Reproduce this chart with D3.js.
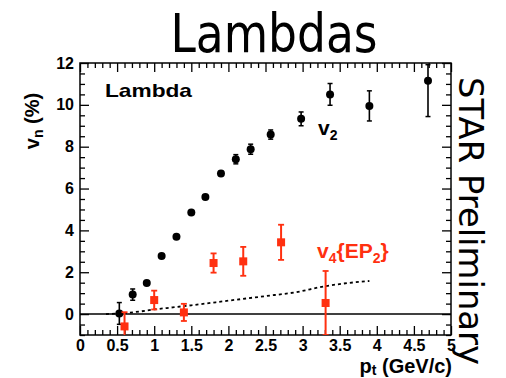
<!DOCTYPE html>
<html>

<head>
    <meta charset="utf-8">
    <style>
        body {
            margin: 0;
            background: white;
        }

        svg {
            overflow: visible;
        }

        .axis .domain {
            display: none;
        }

        .axis .tick line {
            stroke: #000;
            stroke-width: 1.3px;
        }

        .axis .tick text {
            font-family: 'Liberation Sans', Arial, sans-serif;
            font-weight: bold;
            font-size: 16px;
            fill: #000;
        }
    </style>
</head>

<body>
    <svg width="506" height="378"></svg>
</body>

<script src="https://cdnjs.cloudflare.com/ajax/libs/d3/7.8.5/d3.min.js"></script>

<script>
    // v2 of Lambda (black circles)
    const v2Pt = [0.53, 0.71, 0.90, 1.10, 1.30, 1.50, 1.69, 1.90, 2.10, 2.30, 2.57, 2.98, 3.37, 3.90, 4.69]
    const v2Val = [0.03, 0.93, 1.48, 2.78, 3.70, 4.86, 5.60, 6.72, 7.40, 7.88, 8.58, 9.33, 10.50, 9.95, 11.15]
    const v2ErrLo = [0.52, 0.27, 0.10, 0.08, 0.08, 0.08, 0.08, 0.10, 0.22, 0.24, 0.22, 0.33, 0.52, 0.72, 1.71]
    const v2ErrHi = [0.52, 0.27, 0.10, 0.08, 0.08, 0.08, 0.08, 0.10, 0.22, 0.24, 0.22, 0.33, 0.52, 0.72, 0.77]

    // v4{EP2} (red squares)
    const v4Pt = [0.60, 1.00, 1.40, 1.80, 2.20, 2.71, 3.31]
    const v4Val = [-0.59, 0.67, 0.08, 2.44, 2.52, 3.43, 0.53]
    const v4Err = [0.68, 0.45, 0.41, 0.46, 0.69, 0.84, 1.53]

    // dashed curve
    const curvePt = [0.35, 0.6, 0.8, 1.0, 1.25, 1.5, 2.0, 2.5, 2.9, 3.3, 3.6, 3.9]
    const curveVal = [0.0, 0.05, 0.12, 0.22, 0.32, 0.42, 0.64, 0.86, 1.04, 1.33, 1.48, 1.58]

    // ticks
    const xMajor = [0, 0.5, 1, 1.5, 2, 2.5, 3, 3.5, 4, 4.5, 5]
    const xLabels = ["0", "0.5", "1", "1.5", "2", "2.5", "3", "3.5", "4", "4.5", "5"]
    const yMajor = [0, 2, 4, 6, 8, 10, 12]
    const yLabels = ["0", "2", "4", "6", "8", "10", "12"]

    let red = "#ff3010"
    let mLeft = 80, mRight = 451, mTop = 63, mBottom = 335

    let svg = d3.select("svg")

    let x = d3.scaleLinear()
        .domain([0, 5])
        .range([mLeft, mRight])

    let y = d3.scaleLinear()
        .domain([-1, 12])
        .range([mBottom, mTop])

    let xMinor = d3.range(0, 5.001, 0.1).map(d => +d.toFixed(1)).filter(d => !xMajor.includes(d))
    let yMinor = d3.range(-1, 12.001, 0.5).filter(d => !yMajor.includes(d))

    // axes, ticks pointing inward on all four sides
    svg.append("g")
        .attr("class", "axis")
        .attr("transform", `translate(0,${mBottom})`)
        .call(d3.axisBottom(x).tickValues(xMajor).tickSize(-9)
            .tickFormat((d, i) => xLabels[i]))
        .call(g => g.selectAll("text").attr("y", 16).attr("dy", 0))
    svg.append("g")
        .attr("class", "axis")
        .attr("transform", `translate(0,${mBottom})`)
        .call(d3.axisBottom(x).tickValues(xMinor).tickSize(-5).tickFormat(""))

    svg.append("g")
        .attr("class", "axis")
        .attr("transform", `translate(0,${mTop})`)
        .call(d3.axisTop(x).tickValues(xMajor).tickSize(-9).tickFormat(""))
    svg.append("g")
        .attr("class", "axis")
        .attr("transform", `translate(0,${mTop})`)
        .call(d3.axisTop(x).tickValues(xMinor).tickSize(-5).tickFormat(""))

    svg.append("g")
        .attr("class", "axis")
        .attr("transform", `translate(${mLeft},0)`)
        .call(d3.axisLeft(y).tickValues(yMajor).tickSize(-9).tickPadding(6)
            .tickFormat((d, i) => yLabels[i]))
    svg.append("g")
        .attr("class", "axis")
        .attr("transform", `translate(${mLeft},0)`)
        .call(d3.axisLeft(y).tickValues(yMinor).tickSize(-5).tickFormat(""))

    svg.append("g")
        .attr("class", "axis")
        .attr("transform", `translate(${mRight},0)`)
        .call(d3.axisRight(y).tickValues(yMajor).tickSize(-9).tickFormat(""))
    svg.append("g")
        .attr("class", "axis")
        .attr("transform", `translate(${mRight},0)`)
        .call(d3.axisRight(y).tickValues(yMinor).tickSize(-5).tickFormat(""))

    // frame
    svg.append("rect")
        .attr("x", mLeft)
        .attr("y", mTop)
        .attr("width", mRight - mLeft)
        .attr("height", mBottom - mTop)
        .attr("fill", "none")
        .attr("stroke", "#000")
        .attr("stroke-width", 1.5)

    svg.append("clipPath")
        .attr("id", "plot")
        .append("rect")
        .attr("x", mLeft)
        .attr("y", mTop)
        .attr("width", mRight - mLeft)
        .attr("height", mBottom - mTop)

    let plot = svg.append("g").attr("clip-path", "url(#plot)")

    // zero line
    plot.append("line")
        .attr("x1", mLeft)
        .attr("x2", mRight)
        .attr("y1", y(0))
        .attr("y2", y(0))
        .attr("stroke", "#000")
        .attr("stroke-width", 1.5)

    // dashed curve
    let line = d3.line()
        .x((d, i) => x(curvePt[i]))
        .y(d => y(d))
        .curve(d3.curveMonotoneX)

    plot.append("path")
        .datum(curveVal)
        .attr("d", line)
        .attr("fill", "none")
        .attr("stroke", "#000")
        .attr("stroke-width", 1.8)
        .attr("stroke-dasharray", "3,3")

    // v2 error bars + circles
    let v2 = plot.append("g")
    v2.selectAll(".bar")
        .data(v2Val)
        .join("line")
        .attr("x1", (d, i) => x(v2Pt[i]))
        .attr("x2", (d, i) => x(v2Pt[i]))
        .attr("y1", (d, i) => y(d - v2ErrLo[i]))
        .attr("y2", (d, i) => y(d + v2ErrHi[i]))
        .attr("stroke", "#000")
        .attr("stroke-width", 1.6)
    v2.selectAll(".caplo")
        .data(v2Val)
        .join("line")
        .attr("x1", (d, i) => x(v2Pt[i]) - 2.5)
        .attr("x2", (d, i) => x(v2Pt[i]) + 2.5)
        .attr("y1", (d, i) => y(d - v2ErrLo[i]))
        .attr("y2", (d, i) => y(d - v2ErrLo[i]))
        .attr("stroke", "#000")
        .attr("stroke-width", 1.5)
    v2.selectAll(".caphi")
        .data(v2Val)
        .join("line")
        .attr("x1", (d, i) => x(v2Pt[i]) - 2.5)
        .attr("x2", (d, i) => x(v2Pt[i]) + 2.5)
        .attr("y1", (d, i) => y(d + v2ErrHi[i]))
        .attr("y2", (d, i) => y(d + v2ErrHi[i]))
        .attr("stroke", "#000")
        .attr("stroke-width", 1.5)
    v2.selectAll("circle")
        .data(v2Val)
        .join("circle")
        .attr("cx", (d, i) => x(v2Pt[i]))
        .attr("cy", d => y(d))
        .attr("r", 4)
        .attr("fill", "#000")

    // v4 error bars + squares
    let v4 = plot.append("g")
    v4.selectAll(".bar")
        .data(v4Val)
        .join("line")
        .attr("x1", (d, i) => x(v4Pt[i]))
        .attr("x2", (d, i) => x(v4Pt[i]))
        .attr("y1", (d, i) => y(d - v4Err[i]))
        .attr("y2", (d, i) => y(d + v4Err[i]))
        .attr("stroke", red)
        .attr("stroke-width", 2)
    v4.selectAll(".caplo")
        .data(v4Val)
        .join("line")
        .attr("x1", (d, i) => x(v4Pt[i]) - 3)
        .attr("x2", (d, i) => x(v4Pt[i]) + 3)
        .attr("y1", (d, i) => y(d - v4Err[i]))
        .attr("y2", (d, i) => y(d - v4Err[i]))
        .attr("stroke", red)
        .attr("stroke-width", 1.8)
    v4.selectAll(".caphi")
        .data(v4Val)
        .join("line")
        .attr("x1", (d, i) => x(v4Pt[i]) - 3)
        .attr("x2", (d, i) => x(v4Pt[i]) + 3)
        .attr("y1", (d, i) => y(d + v4Err[i]))
        .attr("y2", (d, i) => y(d + v4Err[i]))
        .attr("stroke", red)
        .attr("stroke-width", 1.8)
    v4.selectAll("rect")
        .data(v4Val)
        .join("rect")
        .attr("x", (d, i) => x(v4Pt[i]) - 4)
        .attr("y", d => y(d) - 4)
        .attr("width", 8)
        .attr("height", 8)
        .attr("fill", red)

    // texts
    svg.append("text").text("Lambdas")
        .attr("x", 274)
        .attr("y", 52)
        .attr("text-anchor", "middle")
        .attr("font-family", "'DejaVu Sans Condensed', 'DejaVu Sans', sans-serif")
        .attr("font-size", "53px")
        .attr("textLength", 207)
        .attr("lengthAdjust", "spacingAndGlyphs")
        .attr("fill", "#000")

    svg.append("text").text("STAR Preliminary")
        .attr("transform", "translate(459,221) rotate(90)")
        .attr("text-anchor", "middle")
        .attr("font-family", "'DejaVu Sans', sans-serif")
        .attr("font-size", "33px")
        .attr("textLength", 288)
        .attr("lengthAdjust", "spacingAndGlyphs")
        .attr("fill", "#000")

    let bold = "'Liberation Sans', Arial, sans-serif"

    svg.append("text").text("Lambda")
        .attr("x", 105)
        .attr("y", 97)
        .attr("font-family", bold)
        .attr("font-weight", "bold")
        .attr("font-size", "19px")
        .attr("textLength", 87)
        .attr("lengthAdjust", "spacingAndGlyphs")

    let v2Label = svg.append("text")
        .attr("x", 318)
        .attr("y", 135)
        .attr("font-family", bold)
        .attr("font-weight", "bold")
        .attr("font-size", "21px")
    v2Label.append("tspan").text("v")
    v2Label.append("tspan").text("2").attr("font-size", "14px").attr("dy", 5)

    let v4Label = svg.append("text")
        .attr("x", 317)
        .attr("y", 258)
        .attr("font-family", bold)
        .attr("font-weight", "bold")
        .attr("font-size", "21px")
        .attr("fill", red)
    v4Label.append("tspan").text("v")
    v4Label.append("tspan").text("4").attr("font-size", "14px").attr("dy", 5)
    v4Label.append("tspan").text("{EP").attr("dy", -5)
    v4Label.append("tspan").text("2").attr("font-size", "14px").attr("dy", 5)
    v4Label.append("tspan").text("}").attr("dy", -5)

    let xTitle = svg.append("text")
        .attr("x", 452)
        .attr("y", 373)
        .attr("text-anchor", "end")
        .attr("font-family", bold)
        .attr("font-weight", "bold")
        .attr("font-size", "20px")
    xTitle.append("tspan").text("p")
    xTitle.append("tspan").text("t").attr("font-size", "14px").attr("dy", 2)
    xTitle.append("tspan").text(" (GeV/c)").attr("dy", -2)

    let yTitle = svg.append("text")
        .attr("transform", "translate(39,121) rotate(-90)")
        .attr("text-anchor", "middle")
        .attr("font-family", bold)
        .attr("font-weight", "bold")
        .attr("font-size", "20px")
    yTitle.append("tspan").text("v")
    yTitle.append("tspan").text("n").attr("font-size", "14px").attr("dy", 4)
    yTitle.append("tspan").text(" (%)").attr("dy", -4)

</script>

</html>
